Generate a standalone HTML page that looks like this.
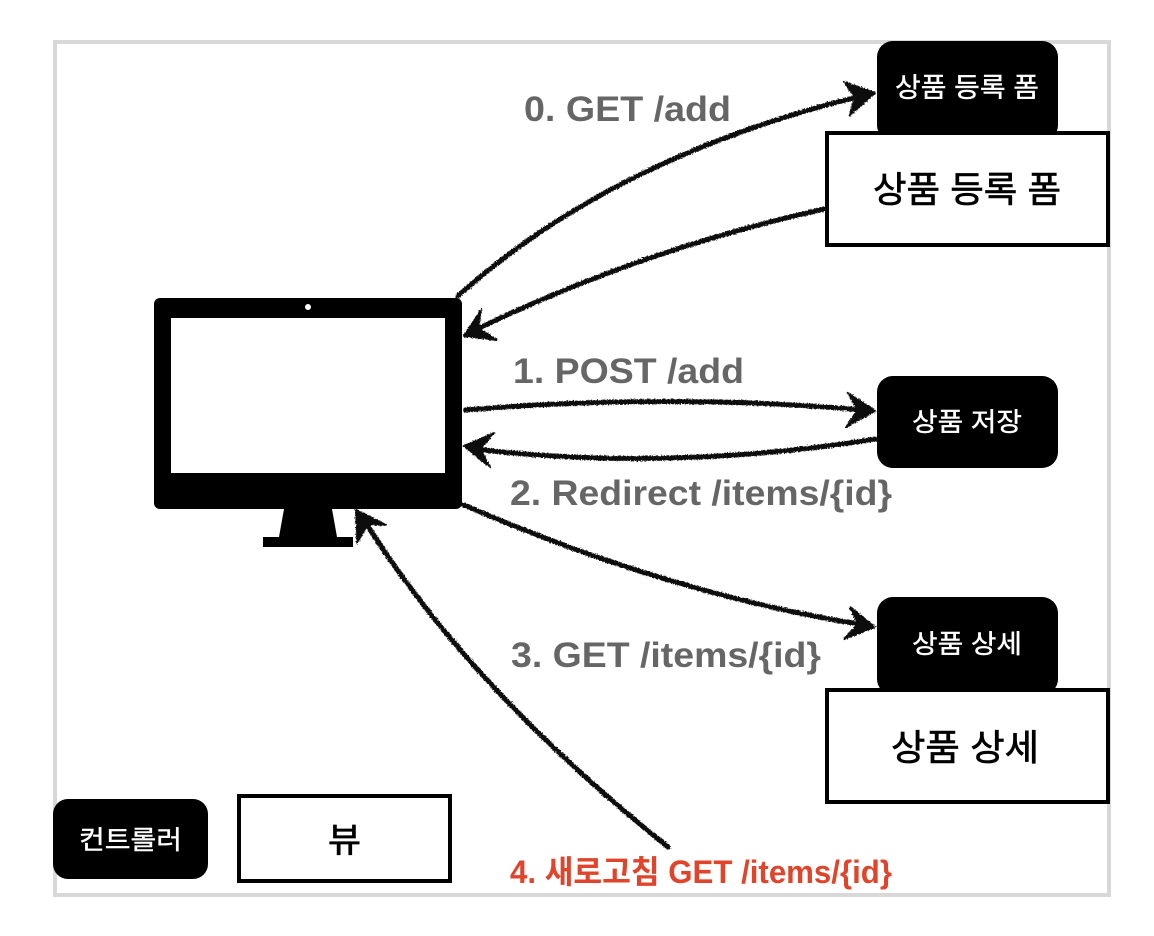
<!DOCTYPE html>
<html><head><meta charset="utf-8"><style>
html,body{margin:0;padding:0;background:#fff}
svg{display:block}
.g{font:bold 35px "Liberation Sans",sans-serif;fill:#666}
.k{font-family:"Liberation Sans","Noto Sans CJK KR",sans-serif}
</style></head><body>
<svg width="1154" height="936" viewBox="0 0 1154 936" xmlns="http://www.w3.org/2000/svg">
<defs>
<filter id="r" x="-10%" y="-10%" width="120%" height="120%">
<feTurbulence type="fractalNoise" baseFrequency="0.7" numOctaves="2" seed="3"/>
<feDisplacementMap in="SourceGraphic" scale="3.5" xChannelSelector="R" yChannelSelector="G"/>
</filter>
</defs>
<rect width="1154" height="936" fill="#fff"/>
<rect x="55" y="42" width="1054" height="853" fill="#fff" stroke="#d8d8d8" stroke-width="4"/>

<!-- monitor -->
<rect x="154" y="298" width="308" height="211" rx="6" fill="#000"/>
<rect x="171" y="318" width="274" height="155" fill="#fff"/>
<circle cx="308" cy="307" r="3" fill="#fff"/>
<path d="M284 509H332L337 537H353V547H263V537H279Z" fill="#000"/>

<!-- boxes -->
<rect x="877" y="41" width="181" height="100" rx="16" fill="#000"/>
<rect x="827" y="133" width="281" height="112" fill="#fff" stroke="#000" stroke-width="4"/>
<rect x="877" y="376" width="181" height="92" rx="16" fill="#000"/>
<rect x="877" y="597" width="181" height="98" rx="16" fill="#000"/>
<rect x="827" y="690" width="281" height="112" fill="#fff" stroke="#000" stroke-width="4"/>
<rect x="53" y="799" width="155" height="80" rx="15" fill="#000"/>
<rect x="239" y="796" width="211" height="85" fill="#fff" stroke="#000" stroke-width="4"/>

<!-- korean labels -->
<g class="k">
<text x="895" y="97" font-size="27" fill="#fff" stroke="#fff" stroke-width=".4" textLength="144" lengthAdjust="spacingAndGlyphs">상품 등록 폼</text>
<text x="873" y="202" font-size="36" fill="#000" stroke="#000" stroke-width=".7" textLength="188" lengthAdjust="spacingAndGlyphs">상품 등록 폼</text>
<text x="912" y="431" font-size="26" fill="#fff" stroke="#fff" stroke-width=".4" textLength="110" lengthAdjust="spacingAndGlyphs">상품 저장</text>
<text x="912" y="653" font-size="26" fill="#fff" stroke="#fff" stroke-width=".4" textLength="110" lengthAdjust="spacingAndGlyphs">상품 상세</text>
<text x="891" y="760" font-size="36" fill="#000" stroke="#000" stroke-width=".7" textLength="148" lengthAdjust="spacingAndGlyphs">상품 상세</text>
<text x="79" y="849" font-size="26" fill="#fff" stroke="#fff" stroke-width=".4" textLength="103" lengthAdjust="spacingAndGlyphs">컨트롤러</text>
<text x="328" y="852" font-size="34" fill="#000" stroke="#000" stroke-width=".7" textLength="33" lengthAdjust="spacingAndGlyphs">뷰</text>
</g>

<!-- edge labels -->
<text class="g" x="524" y="121" textLength="207" lengthAdjust="spacingAndGlyphs">0. GET /add</text>
<text class="g" x="513" y="383" textLength="231" lengthAdjust="spacingAndGlyphs">1. POST /add</text>
<text class="g" x="510" y="505" textLength="382" lengthAdjust="spacingAndGlyphs">2. Redirect /items/{id}</text>
<text class="g" x="511" y="667" textLength="310" lengthAdjust="spacingAndGlyphs">3. GET /items/{id}</text>
<text class="k" x="510" y="883" font-size="32" font-weight="bold" fill="#e0442a" textLength="382" lengthAdjust="spacingAndGlyphs">4. 새로고침 GET /items/{id}</text>

<!-- connectors -->
<g filter="url(#r)" fill="none" stroke="#0c0c0c" stroke-width="5" stroke-linecap="round" stroke-linejoin="round">
<path d="M458 296Q614 156 865 95"/>
<path d="M875 93L844 82L855 97L850 115Z" fill="#0c0c0c" stroke-width="2"/>
<path d="M824 209Q640 250 475 330"/>
<path d="M464 336L481 310L478 328L497 340Z" fill="#0c0c0c" stroke-width="2"/>
<path d="M465 410Q670 393 865 410"/>
<path d="M875 411L848 393L858 410L846 427Z" fill="#0c0c0c" stroke-width="2"/>
<path d="M876 439Q667 472 475 449"/>
<path d="M464 446L494 433L480 449L490 467Z" fill="#0c0c0c" stroke-width="2"/>
<path d="M464 505Q669 594 865 625"/>
<path d="M875 627L850 607L858 624L844 639Z" fill="#0c0c0c" stroke-width="2"/>
<path d="M668 847Q468 687 364 520"/>
<path d="M356 510L386 525L368 524L357 543Z" fill="#0c0c0c" stroke-width="2"/>
</g>
</svg>
</body></html>
